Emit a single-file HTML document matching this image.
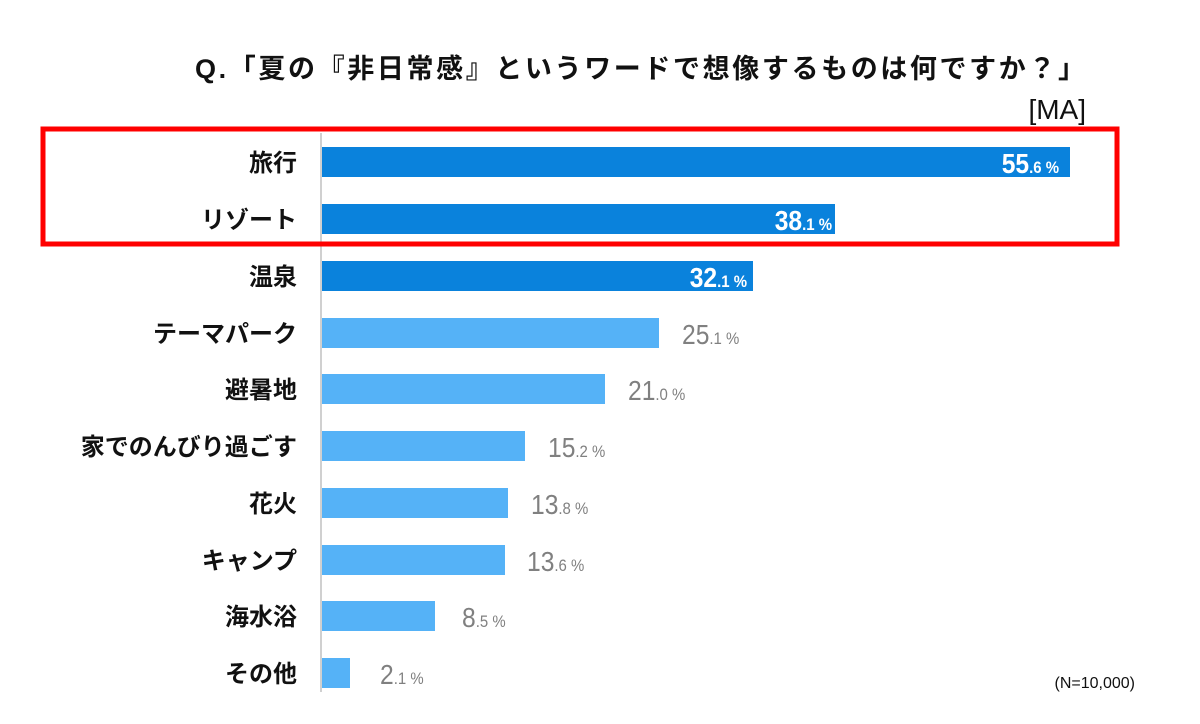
<!DOCTYPE html>
<html><head><meta charset="utf-8"><style>
html,body{margin:0;padding:0;background:#fff;}
svg{display:block}
.jp{font-family:"Liberation Sans","Noto Sans CJK JP",sans-serif;}
.nar{font-family:"Liberation Sans",sans-serif;}
</style></head><body>
<svg width="1200" height="724" viewBox="0 0 1200 724" xmlns="http://www.w3.org/2000/svg">
<rect width="1200" height="724" fill="#fff"/>
<text class="jp" x="195" y="78" textLength="890" lengthAdjust="spacing" font-size="27" font-weight="bold" fill="#111">Q.「夏の『非日常感』というワードで想像するものは何ですか？」</text>
<text class="jp" x="1086" y="119" text-anchor="end" font-size="28" fill="#111">[MA]</text>
<line x1="321" y1="133" x2="321" y2="692" stroke="#d0d0d0" stroke-width="2"/>
<g class="jp" font-size="24" font-weight="bold" fill="#111" text-anchor="end">
<text x="297" y="171">旅行</text>
<text x="297" y="228">リゾート</text>
<text x="297" y="285">温泉</text>
<text x="297" y="342">テーマパーク</text>
<text x="297" y="398">避暑地</text>
<text x="297" y="455">家でのんびり過ごす</text>
<text x="297" y="512">花火</text>
<text x="297" y="569">キャンプ</text>
<text x="297" y="625">海水浴</text>
<text x="297" y="682">その他</text>
</g>
<g>
<rect x="322" y="147" width="748" height="30" fill="#0A82DC"/>
<rect x="322" y="204" width="513" height="30" fill="#0A82DC"/>
<rect x="322" y="261" width="431" height="30" fill="#0A82DC"/>
<rect x="322" y="318" width="337" height="30" fill="#55B2F7"/>
<rect x="322" y="374" width="283" height="30" fill="#55B2F7"/>
<rect x="322" y="431" width="203" height="30" fill="#55B2F7"/>
<rect x="322" y="488" width="186" height="30" fill="#55B2F7"/>
<rect x="322" y="545" width="183" height="30" fill="#55B2F7"/>
<rect x="322" y="601" width="113" height="30" fill="#55B2F7"/>
<rect x="322" y="658" width="28" height="30" fill="#55B2F7"/>
</g>
<g class="nar" font-weight="bold" fill="#fff" text-anchor="end">
<text transform="translate(1059,173) scale(0.88,1)" font-size="28">55<tspan font-size="17">.6 %</tspan></text>
<text transform="translate(832,230) scale(0.88,1)" font-size="28">38<tspan font-size="17">.1 %</tspan></text>
<text transform="translate(747,287) scale(0.88,1)" font-size="28">32<tspan font-size="17">.1 %</tspan></text>
</g>
<g class="nar" fill="#808080">
<text transform="translate(682,344) scale(0.88,1)" font-size="28">25<tspan font-size="17">.1 %</tspan></text>
<text transform="translate(628,400) scale(0.88,1)" font-size="28">21<tspan font-size="17">.0 %</tspan></text>
<text transform="translate(548,457) scale(0.88,1)" font-size="28">15<tspan font-size="17">.2 %</tspan></text>
<text transform="translate(531,514) scale(0.88,1)" font-size="28">13<tspan font-size="17">.8 %</tspan></text>
<text transform="translate(527,571) scale(0.88,1)" font-size="28">13<tspan font-size="17">.6 %</tspan></text>
<text transform="translate(462,627) scale(0.88,1)" font-size="28">8<tspan font-size="17">.5 %</tspan></text>
<text transform="translate(380,684) scale(0.88,1)" font-size="28">2<tspan font-size="17">.1 %</tspan></text>
</g>
<rect x="43" y="129" width="1074" height="115" fill="none" stroke="#f00" stroke-width="5"/>
<text class="jp" x="1135" y="688" text-anchor="end" font-size="16" fill="#111">(N=10,000)</text>
</svg>
</body></html>
